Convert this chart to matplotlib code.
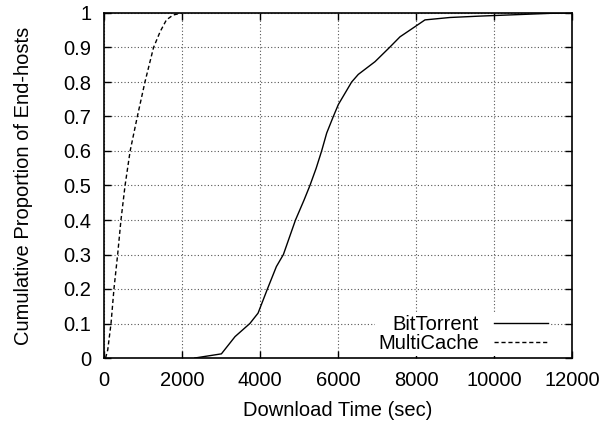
import matplotlib
matplotlib.use("Agg")
import matplotlib.pyplot as plt

plt.rcParams['font.family'] = ['Liberation Sans', 'DejaVu Sans']

bt_time = [2330, 3010, 3360, 3740, 3950, 4190, 4420, 4600, 4910, 5130, 5280, 5440, 5580, 5710,
           5880, 6010, 6350, 6520, 6950, 7320, 7590, 7970, 8230, 8870, 9640, 11440, 12000]
bt_cdf = [0.0, 0.012, 0.062, 0.1, 0.13, 0.2, 0.265, 0.3, 0.4, 0.458, 0.5, 0.55, 0.6, 0.652,
          0.7, 0.735, 0.8, 0.822, 0.859, 0.9, 0.931, 0.96, 0.98, 0.987, 0.991, 0.999, 1.0]

mc_time = [40, 95, 180, 255, 350, 435, 540, 670, 855, 1050, 1270, 1440, 1600, 1770, 1990]
mc_cdf = [0.0, 0.023, 0.1, 0.2, 0.3, 0.4, 0.5, 0.6, 0.7, 0.8, 0.9, 0.946, 0.98, 0.994, 1.0]

xticks = [0, 2000, 4000, 6000, 8000, 10000, 12000]
yticks = [0, 0.1, 0.2, 0.3, 0.4, 0.5, 0.6, 0.7, 0.8, 0.9, 1]
ylabels = ["0", "0.1", "0.2", "0.3", "0.4", "0.5", "0.6", "0.7", "0.8", "0.9", "1"]

FS = 14.5

fig = plt.figure(figsize=(6.03, 4.23), dpi=100)
ax = fig.add_axes([104 / 603, 1 - 358 / 423, 468 / 603, 345 / 423])

ax.plot(bt_time, bt_cdf, color='black', lw=1.0, linestyle='-', label='BitTorrent')
ax.plot(mc_time, mc_cdf, color='black', lw=1.0, linestyle=(0, (3, 2)), label='MultiCache')

ax.set_xlim(0, 12000)
ax.set_ylim(0, 1)
ax.set_xticks(xticks)
ax.set_xticklabels([str(t) for t in xticks])
ax.set_yticks(yticks)
ax.set_yticklabels(ylabels)
ax.tick_params(direction='in', top=True, right=True, labelsize=FS, length=5, width=1)
ax.tick_params(axis='x', pad=9)
ax.tick_params(axis='y', pad=9)
ax.grid(True, color='#555555', linestyle=(0, (1, 2)), linewidth=0.8)
for s in ax.spines.values():
    s.set_linewidth(1.2)

ax.set_xlabel('Download Time (sec)', fontsize=FS, labelpad=8)
ax.set_ylabel('Cumulative Proportion of End-hosts', fontsize=FS, labelpad=22)

leg = ax.legend(loc='lower right', bbox_to_anchor=(0.96, 0.0), fontsize=FS, frameon=True,
                fancybox=False, edgecolor='white', facecolor='white', framealpha=1,
                markerfirst=False, handlelength=2.7, borderpad=0.15, labelspacing=0.0,
                handletextpad=0.75, borderaxespad=0.1)
leg.get_frame().set_linewidth(0)
for t in leg.get_texts():
    t.set_ha('right')

fig.savefig('out.png', dpi=100)
